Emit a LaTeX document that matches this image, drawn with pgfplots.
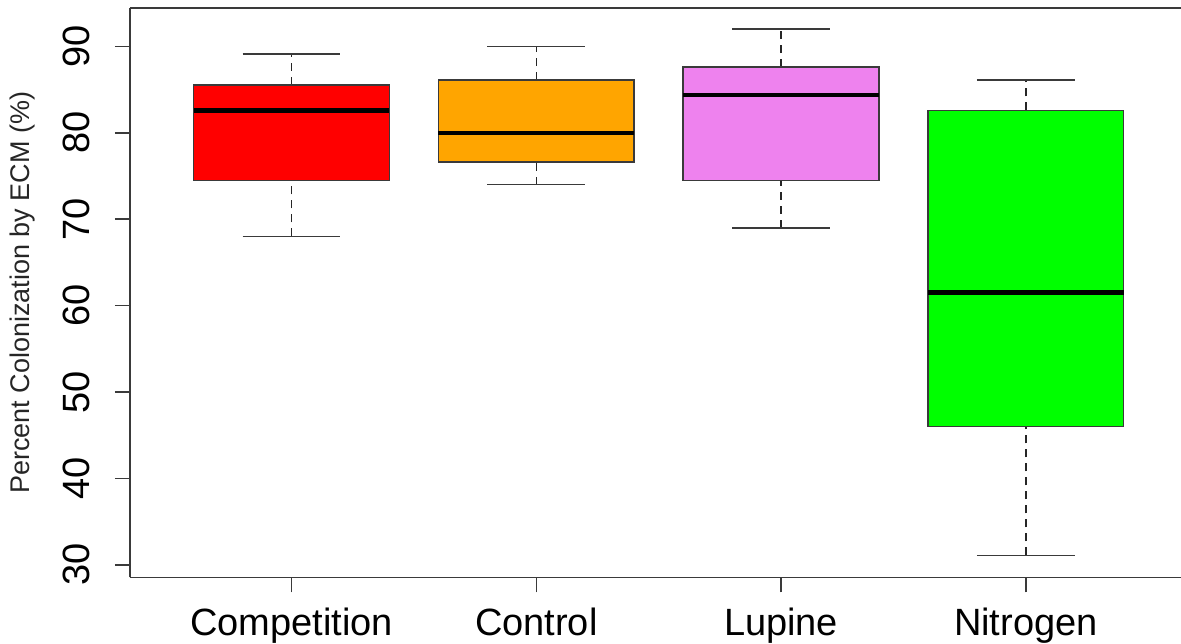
\documentclass[border=0pt]{standalone}
\usepackage{fontspec}
\setmainfont{Liberation Sans}
\usepackage{pgfplots}
\pgfplotsset{compat=1.18}
\usetikzlibrary{calc}
\definecolor{rred}{HTML}{FF0000}
\definecolor{rorange}{HTML}{FFA500}
\definecolor{rviolet}{HTML}{EE82EE}
\definecolor{rgreen}{HTML}{00FF00}
\definecolor{edge}{HTML}{3A3A3A}
\pgfplotsset{
  stem/.style={black!85, line width=0.75bp, dash pattern=on 4bp off 3bp},
  cap/.style={edge, line width=0.75bp},
  boxs/.style={draw=edge, line width=0.75bp, fill=#1},
  med/.style={black, line width=2.2bp},
}
\begin{document}
\begin{tikzpicture}
\begin{axis}[
  scale only axis, width=525.5bp, height=284.65bp,
  xmin=0.34, xmax=4.634, ymin=28.56, ymax=94.44,
  axis x line*=box, axis y line*=left,
  axis line style={edge, line width=0.75bp},
  xtick={1,2,3,4},
  xticklabels={Competition,Control,Lupine,Nitrogen},
  ytick={30,40,50,60,70,80,90},
  xtick pos=bottom, ytick pos=left,
  tick align=outside, major tick length=7.5bp,
  tick style={edge, line width=0.75bp},
  /pgf/number format/assume math mode=true,
  tick label style={font=\fontsize{19bp}{22bp}\selectfont, inner sep=0pt},
  x tick label style={anchor=north, yshift=-7.5bp},
  y tick label style={xshift=-12.5bp, rotate=90, anchor=south},
  ylabel={Percent Colonization by ECM (\%)},
  every axis y label/.style={at={(axis description cs:0,0.5)}, xshift=-53.5bp, rotate=90, anchor=center, font=\fontsize{13.5bp}{16bp}\selectfont, text=black!85},
]
% Competition: 68.0, 74.5, 82.6, 85.55, 89.1
\addplot[stem] coordinates {(1,68.0) (1,74.5)};
\addplot[stem] coordinates {(1,85.55) (1,89.1)};
\addplot[cap] coordinates {(0.8,68.0) (1.2,68.0)};
\addplot[cap] coordinates {(0.8,89.1) (1.2,89.1)};
\addplot[boxs=rred] coordinates {(0.6,74.5) (1.4,74.5) (1.4,85.55) (0.6,85.55)} -- cycle;
\addplot[med] coordinates {(0.6,82.6) (1.4,82.6)};
% Control: 74.0, 76.6, 80.0, 86.1, 90.0
\addplot[stem] coordinates {(2,74.0) (2,76.6)};
\addplot[stem] coordinates {(2,86.1) (2,90.0)};
\addplot[cap] coordinates {(1.8,74.0) (2.2,74.0)};
\addplot[cap] coordinates {(1.8,90.0) (2.2,90.0)};
\addplot[boxs=rorange] coordinates {(1.6,76.6) (2.4,76.6) (2.4,86.1) (1.6,86.1)} -- cycle;
\addplot[med] coordinates {(1.6,80.0) (2.4,80.0)};
% Lupine: 69.0, 74.5, 84.4, 87.6, 92.0
\addplot[stem] coordinates {(3,69.0) (3,74.5)};
\addplot[stem] coordinates {(3,87.6) (3,92.0)};
\addplot[cap] coordinates {(2.8,69.0) (3.2,69.0)};
\addplot[cap] coordinates {(2.8,92.0) (3.2,92.0)};
\addplot[boxs=rviolet] coordinates {(2.6,74.5) (3.4,74.5) (3.4,87.6) (2.6,87.6)} -- cycle;
\addplot[med] coordinates {(2.6,84.4) (3.4,84.4)};
% Nitrogen: 31.1, 46.0, 61.5, 82.6, 86.1
\addplot[stem] coordinates {(4,31.1) (4,46.0)};
\addplot[stem] coordinates {(4,82.6) (4,86.1)};
\addplot[cap] coordinates {(3.8,31.1) (4.2,31.1)};
\addplot[cap] coordinates {(3.8,86.1) (4.2,86.1)};
\addplot[boxs=rgreen] coordinates {(3.6,46.0) (4.4,46.0) (4.4,82.6) (3.6,82.6)} -- cycle;
\addplot[med] coordinates {(3.6,61.5) (4.4,61.5)};
\end{axis}
\pgfresetboundingbox
\useasboundingbox ($(current axis.south west)+(-65bp,-33.35bp)$) rectangle ($(current axis.north east)+(0,4bp)$);
\end{tikzpicture}
\end{document}
